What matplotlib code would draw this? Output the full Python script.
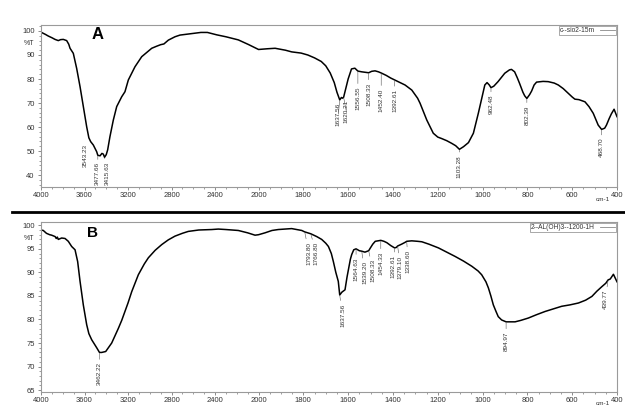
import numpy as np
import matplotlib
matplotlib.use("Agg")
import matplotlib.pyplot as plt
from matplotlib.lines import Line2D
from matplotlib.ticker import FixedLocator, MultipleLocator
import matplotlib.transforms as mtransforms

# ── data ──────────────────────────────────────────────────────────────────────
wn_a = [4000, 3960, 3933, 3900, 3871, 3841, 3820, 3795, 3764, 3745, 3733, 3703,
        3672, 3641, 3611, 3580, 3560, 3543.23, 3519, 3488, 3477.66, 3457, 3440,
        3427, 3415.63, 3400, 3387, 3366, 3335, 3304, 3258, 3228, 3197, 3136,
        3074, 2982, 2940, 2900, 2870, 2829, 2768, 2722, 2600, 2530, 2470, 2384,
        2300, 2186, 2094, 2000, 1960, 1926, 1880, 1852, 1810, 1780, 1750, 1720,
        1700, 1680, 1662, 1650, 1637.56, 1630, 1625, 1620.21, 1612, 1600, 1585,
        1570, 1556.55, 1540, 1525, 1508.33, 1495, 1480, 1465, 1452.40, 1430,
        1410, 1392.61, 1370, 1346, 1316, 1290, 1279, 1249, 1220, 1200, 1183,
        1160, 1138, 1120, 1103.28, 1085, 1063, 1041, 1019, 1000, 990, 980, 970,
        962.48, 950, 931, 901, 880, 871, 857, 845, 835, 820, 812, 802.39, 790,
        781, 770, 759, 730, 707, 680, 662, 640, 617, 600, 588, 570, 543, 525,
        506, 484, 468.70, 455, 447, 435, 425, 413, 405, 400]
tr_a = [99.5, 98.6, 97.9, 97.2, 96.5, 96.0, 96.4, 96.5, 96.0, 94.5, 92.8, 90.7,
        84.4, 76.8, 68.5, 60.1, 55.5, 53.9, 52.5, 49.7, 48.2, 48.0, 49.0,
        48.7, 47.4, 48.5, 50.5, 56.0, 62.9, 68.5, 72.6, 74.7, 79.6, 85.1,
        89.3, 92.8, 93.6, 94.3, 94.6, 96.2, 97.6, 98.3, 99.0, 99.4, 99.4, 98.4,
        97.6, 96.3, 94.4, 92.3, 92.6, 92.8, 92.0, 91.3, 90.8, 90.0, 88.8, 87.3,
        85.5, 82.5, 78.5, 74.5, 71.3, 72.3, 72.0, 72.4, 75.5, 80.0, 84.2,
        84.5, 83.3, 83.0, 82.8, 82.6, 83.2, 83.4, 83.0, 82.5, 81.5,
        80.4, 79.6, 78.6, 77.5, 75.4, 72.0, 69.9, 62.9, 57.4, 55.8, 55.2,
        54.3, 53.2, 52.2, 50.7, 51.8, 53.5, 57.4, 65.7, 73.5, 77.5, 78.5, 77.5,
        76.4, 77.0, 78.9, 82.4, 83.8, 84.0, 83.0, 80.5, 78.2, 74.5, 73.0, 71.9, 73.5,
        75.0, 77.5, 78.7, 79.0, 78.9, 78.3, 77.5, 76.0, 74.0, 72.5, 71.6, 71.4, 70.5, 68.5,
        65.7, 60.8, 59.0, 59.5, 60.8, 63.5, 65.5, 67.4, 65.5, 64.3]

wn_b = [4000, 3979, 3950, 3920, 3902, 3870, 3860, 3850, 3841, 3810, 3779, 3760,
        3749, 3718, 3687, 3663, 3641, 3611, 3580, 3560, 3534, 3488, 3462.22,
        3442, 3405, 3380, 3350, 3320, 3289, 3258, 3228, 3200, 3166, 3105, 3050,
        3013, 2950, 2890, 2830, 2768, 2700, 2646, 2550, 2430, 2370, 2300, 2186,
        2100, 2032, 2000, 1971, 1940, 1912, 1880, 1852, 1830, 1807, 1793.80,
        1780, 1766.80, 1740, 1718, 1700, 1688, 1675, 1666, 1655, 1644, 1637.56,
        1628, 1614, 1605, 1599, 1590, 1584, 1575, 1564.63, 1550, 1539.20, 1525,
        1508.33, 1502, 1490, 1479, 1465, 1454.33, 1440, 1427, 1410, 1392.61,
        1385, 1379.10, 1361, 1345, 1338.60, 1316, 1290, 1271, 1240, 1197, 1160,
        1123, 1085, 1048, 1020, 1004, 985, 974, 963, 952, 940, 930, 915, 900,
        894.97, 870, 855, 830, 796, 760, 721, 680, 647, 610, 572, 540, 512, 490,
        467, 450, 439.77, 430, 416, 410, 404, 400]
tr_b = [99.0, 98.9, 98.3, 98.0, 97.9, 97.6, 97.2, 97.5, 97.0, 97.3, 97.2, 96.8,
        96.6, 95.5, 94.8, 92.3, 88.1, 83.1, 78.9, 77.0, 75.7, 74.0, 73.0,
        73.0, 73.2, 74.0, 75.0, 76.5, 78.1, 79.8, 81.7, 83.5, 85.9, 89.5, 91.8,
        93.1, 94.7, 95.9, 96.9, 97.7, 98.3, 98.7, 99.0, 99.1, 99.2, 99.1, 98.9,
        98.4, 97.9, 98.0, 98.4, 98.9, 99.1, 99.2, 99.3, 99.1, 98.9, 98.6,
        98.4, 98.2, 97.6, 97.0, 96.2, 95.5, 94.0, 92.3, 90.0, 88.1, 85.2,
        85.8, 86.3, 89.0, 90.5, 92.8, 93.8, 94.8, 95.0, 94.6, 94.5, 94.3,
        94.6, 95.1, 96.0, 96.6, 96.7, 96.8, 96.6, 96.3, 95.7, 95.2,
        95.3, 95.6, 96.0, 96.4, 96.6, 96.7, 96.6, 96.5, 96.0, 95.2, 94.3,
        93.4, 92.4, 91.3, 90.3, 89.5, 88.0, 86.7, 85.0, 83.1, 81.7, 80.6, 79.9, 79.6,
        79.5, 79.5, 79.5, 79.8, 80.3, 81.0, 81.7, 82.3, 82.8, 83.1, 83.5, 84.1, 84.9, 86.0,
        87.0, 87.7, 88.4, 88.6, 89.6, 89.0, 88.4, 88.0]

peaks_a = [3543.23, 3477.66, 3415.63, 1637.56, 1620.21, 1556.55, 1508.33,
           1452.40, 1392.61, 1103.28, 962.48, 802.39, 468.70]
peaks_b = [3462.22, 1793.80, 1766.80, 1637.56, 1564.63, 1539.20, 1508.33,
           1454.33, 1392.61, 1379.10, 1338.60, 894.97, 439.77]

legend_a = "c--sio2-15m"
legend_b = "2--AL(OH)3--1200-1H"

# label offsets (points) for the peak annotations
offs_a = [(-4, -2), (0, -5), (2, -3), (-1, -2), (2, -2), (0, -11), (0, -7),
          (0, -11), (0, -6.5), (0, -4), (0, -5), (0, -5), (0, -6)]
offs_b = [(0, -7), (3, -7), (4, -6), (2, -6), (0, -6), (2, -7), (3, -6),
          (0, -8), (-1, -5), (2, -7), (1, -6), (0, -7), (-2, -7)]

# ── style ─────────────────────────────────────────────────────────────────────
plt.rcParams.update({
    "font.family": ["Liberation Sans", "DejaVu Sans"],
    "font.size": 5.5,
    "axes.edgecolor": "#9a9a9a",
    "axes.linewidth": 0.8,
    "xtick.color": "#777777",
    "ytick.color": "#777777",
    "xtick.labelcolor": "#333333",
    "ytick.labelcolor": "#333333",
})
NARROW = ["Liberation Sans Narrow", "Liberation Sans", "DejaVu Sans"]

R = 2.06  # wavenumber axis is expanded 2x below 2000 cm-1


def fwd(w):
    w = np.asarray(w, dtype=float)
    return np.where(w > 2000, 2000 + (w - 2000) / R, w)


def inv(u):
    u = np.asarray(u, dtype=float)
    return np.where(u > 2000, 2000 + (u - 2000) * R, u)


W, H = 625, 407
fig = plt.figure(figsize=(W / 100, H / 100), dpi=100)
ax_a = fig.add_axes([41 / W, 1 - 187 / H, 576 / W, 162 / H])
ax_b = fig.add_axes([41 / W, 1 - 392 / H, 576 / W, 170 / H])

panels = [
    (ax_a, wn_a, tr_a, peaks_a, offs_a, legend_a, "A", (35, 102.5), 10, 2, 94.8, 0.944, -0.062),
    (ax_b, wn_b, tr_b, peaks_b, offs_b, legend_b, "B", (64.6, 100.7), 5, 1, 97.3, 0.935, -0.052),
]

for ax, wn, tr, peaks, offs, leg, letter, ylim, ymaj, ymin, pct_y, let_y, cm_y in panels:
    ax.plot(wn, tr, color="black", lw=1.1, solid_joinstyle="round")
    ax.set_xscale("function", functions=(fwd, inv))
    ax.set_xlim(4000, 400)
    ax.set_ylim(*ylim)

    ax.xaxis.set_major_locator(FixedLocator(
        [4000, 3600, 3200, 2800, 2400, 2000, 1800, 1600, 1400, 1200, 1000, 800, 600, 400]))
    ax.xaxis.set_minor_locator(FixedLocator(
        list(range(3900, 2000, -100)) + list(range(1950, 400, -50))))
    ax.yaxis.set_major_locator(MultipleLocator(ymaj))
    ax.yaxis.set_minor_locator(MultipleLocator(ymin))
    ax.tick_params(which="major", length=2.5, width=0.6, pad=1.0, labelsize=5.5)
    ax.tick_params(which="minor", length=1.5, width=0.5)
    ax.tick_params(axis="y", which="major", pad=2)

    ax.text(-0.012, pct_y, "%T", transform=mtransforms.blended_transform_factory(
        ax.transAxes, ax.transData), ha="right", va="center", fontsize=5, color="#333333")
    ax.text(0.098 if letter == "A" else 0.089, let_y, letter, transform=ax.transAxes,
            ha="center", va="center", fontsize=12 if letter == "A" else 11,
            fontweight="bold", color="black")
    ax.text(0.988, cm_y, "cm-1", transform=ax.transAxes, ha="right", va="top",
            fontsize=4.6, color="#333333")

    proxy = Line2D([], [], color="#888888", lw=0.6)
    lg = ax.legend([proxy], [leg], loc="upper right", fontsize=4.8, markerfirst=False,
                   handlelength=2.2, borderpad=0.15, borderaxespad=0.15,
                   fancybox=False, framealpha=1, edgecolor="#9a9a9a")
    lg.get_frame().set_linewidth(0.6)
    for t in lg.get_texts():
        t.set_color("#333333")

    for pk, (dx, dy) in zip(peaks, offs):
        y = float(np.interp(pk, wn[::-1], tr[::-1]))
        ax.annotate(f"{pk:.2f}", xy=(pk, y), xytext=(dx, dy), textcoords="offset points",
                    rotation=90, ha="center", va="top", fontsize=4.6, family=NARROW,
                    color="#333333",
                    arrowprops=dict(arrowstyle="-", lw=0.4, color="#555555",
                                    shrinkA=0, shrinkB=0.5))

# thick separator between the two spectra
fig.add_artist(Line2D([12 / W, 1], [1 - 211.5 / H] * 2, lw=2.0, color="black"))

fig.savefig("out.png", dpi=100)
